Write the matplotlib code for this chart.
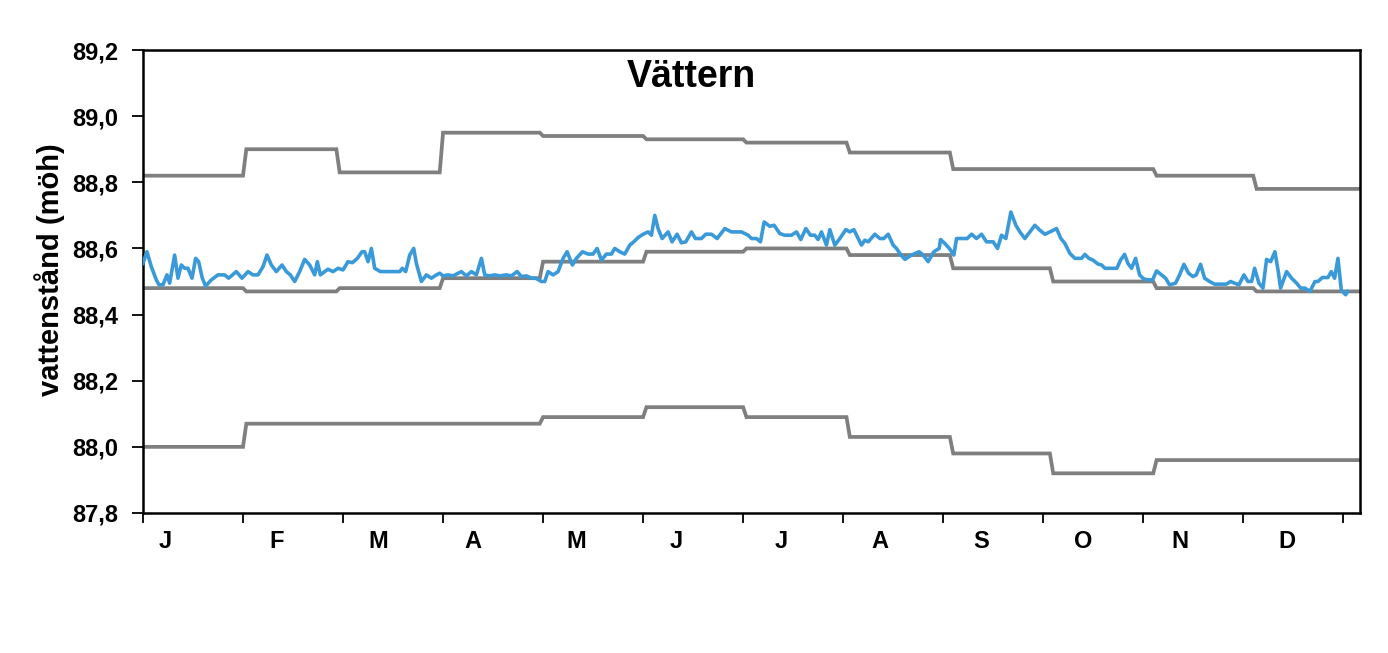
import matplotlib
matplotlib.use("Agg")
import matplotlib.pyplot as plt
from matplotlib.ticker import FixedLocator, FuncFormatter

plt.rcParams['font.family'] = ['Liberation Sans', 'DejaVu Sans']
plt.rcParams['font.weight'] = 'bold'

# ---- data ----
month_labels = ["J", "F", "M", "A", "M", "J", "J", "A", "S", "O", "N", "D"]
month_starts = [0, 31, 59, 90, 120, 151, 181, 212, 243, 273, 304, 334, 365]
label_days = [6.6, 40.2, 70.5, 99.0, 130.0, 160.0, 191.5, 221.0, 251.5, 282.0, 311.0, 343.0]

upper_limit = [88.82, 88.90, 88.83, 88.95, 88.94, 88.93, 88.92, 88.89, 88.84, 88.84, 88.82, 88.78]
normal_low = [88.48, 88.47, 88.48, 88.51, 88.56, 88.59, 88.60, 88.58, 88.54, 88.50, 88.48, 88.47]
lower_limit = [88.00, 88.07, 88.07, 88.07, 88.09, 88.12, 88.09, 88.03, 87.98, 87.92, 87.96, 87.96]

obs_day = [0.0, 1.2, 2.5, 4.0, 4.8, 6.0, 7.2, 8.0, 9.5, 10.5, 11.5, 12.5, 13.5, 14.7, 15.8,
           16.7, 17.8, 18.8, 20.5, 22.5, 24.5, 25.7, 28.0, 29.7, 31.5, 33.0, 34.5, 36.0,
           37.2, 38.5, 40.0, 41.7, 43.0, 44.2, 45.5, 47.0, 48.5, 50.0, 51.5, 52.3, 53.2,
           54.5, 55.5, 57.0, 58.5, 60.0, 61.5, 62.8, 64.3, 65.7, 66.5, 67.5, 68.5, 69.5,
           71.2, 73.0, 75.0, 77.0, 77.8, 78.8, 80.0, 81.2, 82.0, 83.5, 85.0, 86.5, 88.0,
           89.0, 90.0, 91.5, 93.0, 95.5, 97.0, 98.5, 100.0, 101.5, 102.5, 104.0, 105.5,
           107.0, 109.0, 110.5, 112.2, 113.5, 115.0, 116.6, 117.8, 119.5, 120.5, 121.5,
           123.0, 124.5, 126.0, 127.2, 128.8, 130.0, 131.8, 133.5, 135.0, 136.2, 137.5,
           139.0, 140.5, 141.5, 143.0, 144.5, 146.0, 147.2, 148.5, 150.0, 151.5, 152.5,
           153.5, 154.5, 155.7, 157.5, 158.7, 160.2, 161.5, 162.8, 164.5, 165.7, 167.5,
           168.8, 170.5, 172.2, 174.5, 176.5, 177.5, 179.5, 181.5, 182.5, 184.0, 185.2,
           186.3, 188.0, 189.3, 191.0, 192.5, 194.5, 196.0, 197.3, 198.8, 200.2, 201.5,
           202.5, 203.5, 205.0, 206.0, 207.5, 209.0, 210.8, 212.0, 213.2, 214.5, 215.5,
           216.5, 217.5, 219.5, 221.0, 222.2, 223.5, 225.0, 226.0, 227.2, 228.5, 230.5,
           232.8, 234.0, 235.5, 237.2, 238.8, 239.2, 240.5, 242.0, 243.2, 244.0, 246.0,
           247.2, 248.5, 250.0, 251.5, 253.0, 255.0, 256.3, 257.5, 258.8, 260.3, 261.8,
           263.0, 264.5, 266.0, 267.5, 269.0, 270.5, 272.0, 274.0, 275.3, 276.5, 278.0,
           279.5, 281.5, 282.5, 283.7, 284.9, 286.4, 287.5, 288.5, 290.0, 292.1, 293.2,
           294.4, 295.4, 296.5, 297.7, 298.9, 300.1, 301.4, 302.8, 304.0, 305.5, 306.7,
           307.9, 309.7, 310.9, 312.2, 313.6, 314.9, 315.9, 317.2, 318.4, 319.9, 321.4,
           322.9, 324.9, 326.2, 327.4, 328.7, 330.2, 331.4, 332.5, 333.4, 334.7, 335.9,
           337.0, 338.2, 339.5, 340.5, 341.2, 343.0, 344.5, 346.0, 347.2, 348.5, 350.0,
           351.5, 352.4, 353.7, 355.4, 356.4, 357.4, 358.4, 359.4, 360.7, 361.3]
obs_level = [88.555, 88.59, 88.545, 88.505, 88.49, 88.49, 88.52, 88.495, 88.58, 88.51, 88.55,
             88.54, 88.54, 88.51, 88.57, 88.56, 88.51, 88.486, 88.505, 88.52, 88.52, 88.51,
             88.53, 88.51, 88.53, 88.52, 88.52, 88.545, 88.58, 88.55, 88.53, 88.55, 88.53,
             88.52, 88.50, 88.53, 88.567, 88.55, 88.52, 88.56, 88.52, 88.53, 88.537, 88.53,
             88.54, 88.535, 88.56, 88.557, 88.57, 88.59, 88.59, 88.56, 88.60, 88.54, 88.53,
             88.53, 88.53, 88.53, 88.54, 88.53, 88.58, 88.60, 88.555, 88.50, 88.52, 88.51,
             88.52, 88.525, 88.517, 88.52, 88.517, 88.53, 88.517, 88.53, 88.52, 88.57,
             88.52, 88.517, 88.52, 88.517, 88.52, 88.517, 88.53, 88.515, 88.517, 88.51,
             88.51, 88.50, 88.50, 88.53, 88.52, 88.53, 88.57, 88.59, 88.55, 88.57, 88.59,
             88.583, 88.583, 88.60, 88.565, 88.583, 88.583, 88.60, 88.59, 88.583, 88.61,
             88.62, 88.633, 88.643, 88.65, 88.64, 88.70, 88.66, 88.63, 88.65, 88.62,
             88.643, 88.617, 88.62, 88.65, 88.63, 88.63, 88.643, 88.643, 88.63, 88.66,
             88.65, 88.65, 88.65, 88.64, 88.63, 88.63, 88.62, 88.68, 88.667, 88.67, 88.645,
             88.64, 88.64, 88.65, 88.627, 88.66, 88.64, 88.64, 88.627, 88.65, 88.61,
             88.657, 88.61, 88.63, 88.657, 88.65, 88.657, 88.63, 88.61, 88.625, 88.62,
             88.643, 88.63, 88.63, 88.643, 88.61, 88.60, 88.582, 88.567, 88.58, 88.59,
             88.58, 88.56, 88.59, 88.60, 88.627, 88.615, 88.598, 88.58, 88.63, 88.63,
             88.63, 88.643, 88.63, 88.643, 88.62, 88.62, 88.60, 88.64, 88.63, 88.71,
             88.67, 88.65, 88.63, 88.65, 88.67, 88.655, 88.643, 88.65, 88.66, 88.63,
             88.615, 88.585, 88.57, 88.57, 88.582, 88.57, 88.565, 88.553, 88.55, 88.54,
             88.54, 88.54, 88.565, 88.582, 88.555, 88.54, 88.57, 88.52, 88.508, 88.505,
             88.505, 88.532, 88.52, 88.51, 88.49, 88.495, 88.52, 88.552, 88.525, 88.515,
             88.52, 88.552, 88.51, 88.50, 88.492, 88.492, 88.492, 88.50, 88.495, 88.49,
             88.52, 88.50, 88.50, 88.54, 88.495, 88.48, 88.567, 88.56, 88.59, 88.53,
             88.48, 88.53, 88.51, 88.495, 88.48, 88.48, 88.47, 88.50, 88.50, 88.512,
             88.512, 88.53, 88.51, 88.57, 88.474, 88.46, 88.47]

y_ticks = [87.8, 88.0, 88.2, 88.4, 88.6, 88.8, 89.0, 89.2]
x_major_ticks = list(range(0, 361, 30))

title = "Vättern"
ylabel = "vattenstånd (möh)"


def monthly_steps(values):
    xs, ys = [], []
    for i, v in enumerate(values):
        start = month_starts[i]
        end = month_starts[i + 1] - 1 if i < len(values) - 1 else month_starts[i + 1]
        xs += [start, end]
        ys += [v, v]
    return xs, ys


fig = plt.figure(figsize=(13.88, 6.53), dpi=100)
ax = fig.add_axes([0.1030, 0.2144, 0.8768, 0.7090])

gray = "#7f7f7f"
for series in (upper_limit, normal_low, lower_limit):
    xs, ys = monthly_steps(series)
    ax.plot(xs, ys, color=gray, lw=2.7, solid_joinstyle="miter", zorder=2)

ax.plot(obs_day, obs_level, color="#3a9ad9", lw=2.6, zorder=3)

ax.set_xlim(0, 365)
ax.set_ylim(87.8, 89.2)

ax.yaxis.set_major_locator(FixedLocator(y_ticks))
ax.yaxis.set_major_formatter(FuncFormatter(lambda v, p: f"{v:.1f}".replace(".", ",")))
ax.tick_params(axis="y", direction="out", length=8, width=1.3, pad=10, labelsize=17)

ax.set_xticks(x_major_ticks)
ax.set_xticklabels([])
ax.set_xticks(label_days, minor=True)
ax.set_xticklabels(month_labels, minor=True)
ax.tick_params(axis="x", which="major", direction="out", length=7, width=1.3)
ax.tick_params(axis="x", which="minor", length=0, pad=12, labelsize=17)

for s in ax.spines.values():
    s.set_linewidth(1.8)
    s.set_color("black")

fig.text(691 / 1388, 1 - 77 / 653, title, ha="center", va="center",
         fontsize=27, fontweight="bold")
fig.text(50 / 1388, 1 - 270 / 653, ylabel, ha="center", va="center",
         rotation=90, fontsize=21, fontweight="bold")

fig.savefig("out.png", dpi=100, facecolor="white")
